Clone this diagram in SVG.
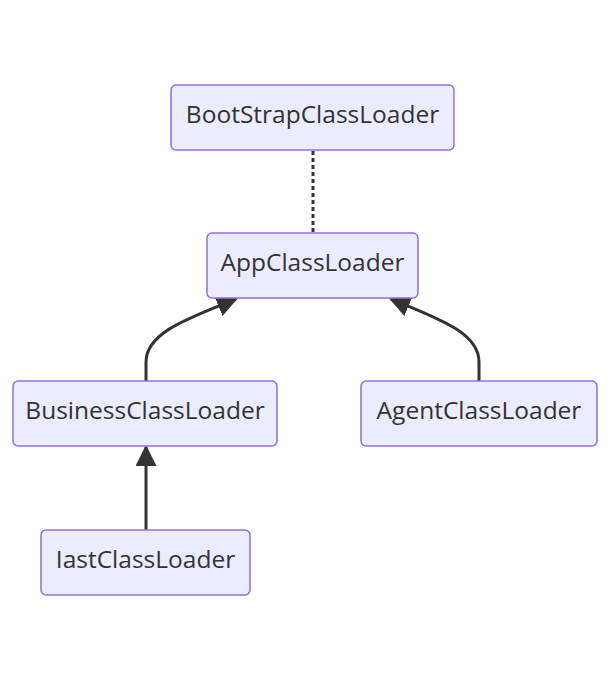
<svg xmlns="http://www.w3.org/2000/svg" width="610" height="680" viewBox="0 0 610 680">
<style>
.node rect{fill:#ECECFF;stroke:#9370DB;stroke-width:1.5}
.node text{font-family:"Open Sans","DejaVu Sans",sans-serif;font-size:24.5px;fill:#333;text-anchor:middle;dominant-baseline:central}
.edge{fill:none;stroke:#333;stroke-width:3}
</style>
<defs>
<marker id="ah" viewBox="0 0 10 10" refX="9" refY="5" markerWidth="7" markerHeight="7" orient="auto">
<path d="M0,0 L10,5 L0,10 z" fill="#333"/>
</marker>
</defs>
<g id="edges">
<path class="edge" d="M313,151 L313,233" stroke-dasharray="4,3" stroke-width="3.5"/>
<path class="edge" d="M146,381 L146,362 C146,332 190,318 236,299" marker-end="url(#ah)"/>
<path class="edge" d="M479,381 L479,362 C479,332 436,318 391,299" marker-end="url(#ah)"/>
<path class="edge" d="M146,530 L146,447" marker-end="url(#ah)"/>
</g>
<g id="n-bootstrap" class="node"><rect x="171" y="85" width="283" height="65" rx="5"/><text x="312.5" y="113.5">BootStrapClassLoader</text></g>
<g id="n-app" class="node"><rect x="207" y="233" width="211" height="65" rx="5"/><text x="312.5" y="261.5">AppClassLoader</text></g>
<g id="n-business" class="node"><rect x="13" y="381" width="264" height="65" rx="5"/><text x="145" y="409.5">BusinessClassLoader</text></g>
<g id="n-agent" class="node"><rect x="361" y="381" width="236" height="65" rx="5"/><text x="479" y="409.5">AgentClassLoader</text></g>
<g id="n-iast" class="node"><rect x="41" y="530" width="209" height="65" rx="5"/><text x="145.5" y="558.5">IastClassLoader</text></g>
</svg>
